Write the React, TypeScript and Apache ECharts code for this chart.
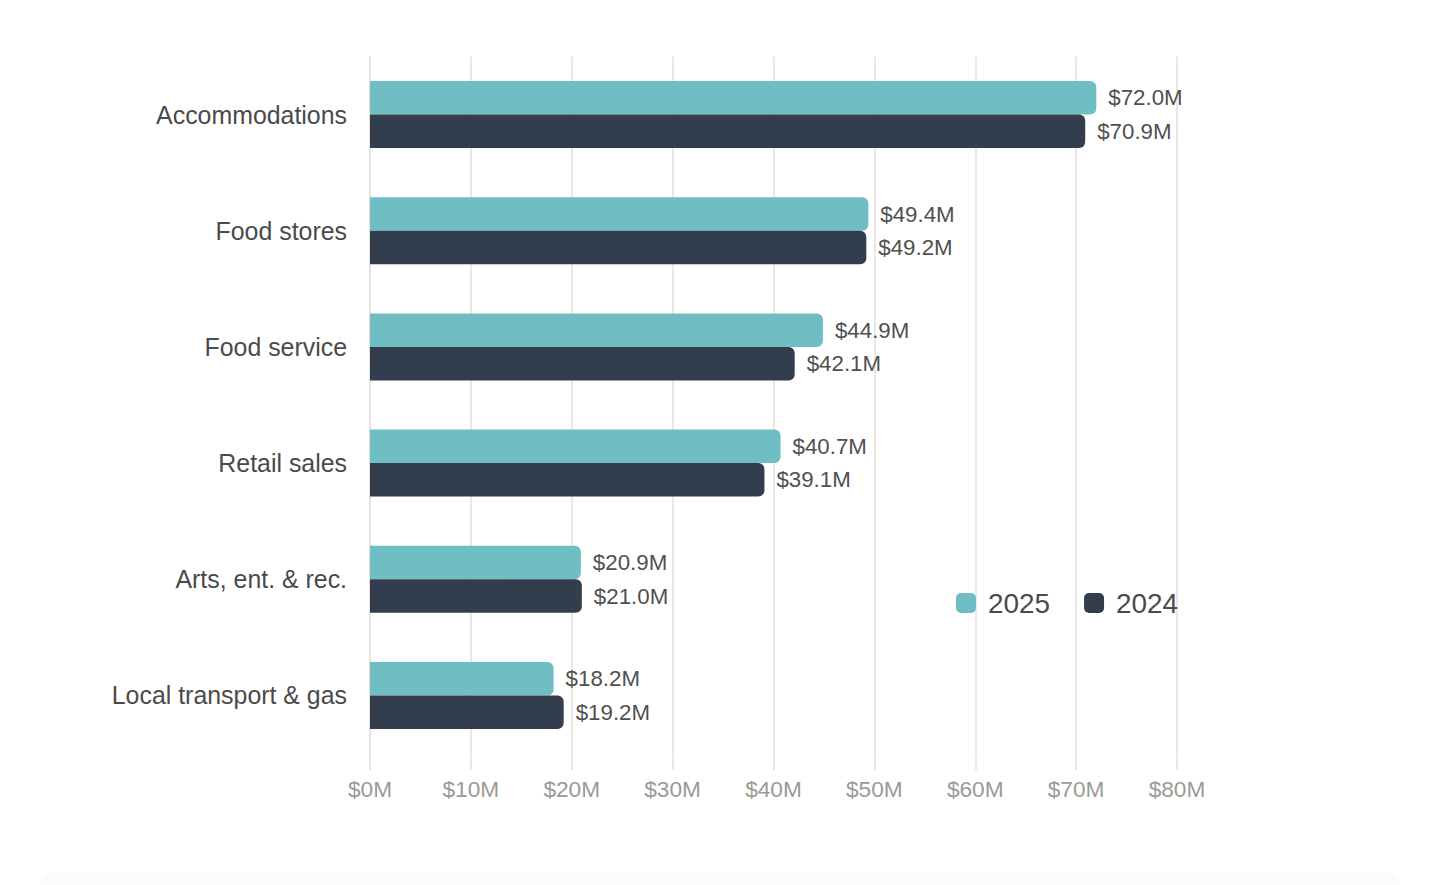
import React, { useEffect, useRef } from "react";
import * as echarts from "echarts";

const categories = [
  "Accommodations",
  "Food stores",
  "Food service",
  "Retail sales",
  "Arts, ent. & rec.",
  "Local transport & gas",
];
const values2025 = [72.0, 49.4, 44.9, 40.7, 20.9, 18.2];
const values2024 = [70.9, 49.2, 42.1, 39.1, 21.0, 19.2];
const seriesNames = ["2025", "2024"];
const xMin = 0;
const xMax = 80;
const xInterval = 10;

const TEAL = "#6ebec4";
const DARK = "#323e4d";
const FONT = "'Liberation Sans', Arial, Helvetica, sans-serif";

export default function App() {
  const ref = useRef<HTMLDivElement>(null);
  useEffect(() => {
    if (!ref.current) return;
    const chart = echarts.init(ref.current, undefined, { renderer: "svg" });
    const labelStyle = {
      show: true,
      position: "right" as const,
      distance: 12,
      color: "#505050",
      fontSize: 22.3,
      fontFamily: FONT,
      formatter: (p: any) => "$" + Number(p.value).toFixed(1) + "M",
    };
    chart.setOption({
      animation: false,
      backgroundColor: "#ffffff",
      grid: { left: 370, right: 263, top: 56.5, height: 697, containLabel: false },
      legend: {
        data: seriesNames,
        left: 951,
        top: 584,
        icon: "roundRect",
        itemWidth: 20,
        itemHeight: 20,
        itemGap: 34,
        textStyle: {
          fontSize: 27.9,
          color: "#4a4a4a",
          fontFamily: FONT,
          padding: [0, 0, 0, 7],
        },
      },
      xAxis: {
        type: "value",
        min: xMin,
        max: xMax,
        interval: xInterval,
        axisLine: { show: false },
        axisTick: {
          show: true,
          length: 17,
          lineStyle: { color: "#e3e1dc", width: 1.5 },
        },
        splitLine: { show: true, lineStyle: { color: "#e3e1dc", width: 1.5 } },
        axisLabel: {
          margin: 24,
          color: "#9a9a96",
          fontSize: 22.7,
          fontFamily: FONT,
          formatter: (v: number) => "$" + v + "M",
        },
      },
      yAxis: {
        type: "category",
        data: categories,
        inverse: true,
        axisLine: { show: true, lineStyle: { color: "#e3e1dc", width: 1.5 } },
        axisTick: { show: false },
        axisLabel: {
          margin: 23,
          color: "#4a4a4a",
          fontSize: 24.9,
          fontFamily: FONT,
        },
      },
      series: [
        {
          name: seriesNames[0],
          type: "bar",
          data: values2025,
          barWidth: 33.5,
          barGap: "0%",
          itemStyle: { color: TEAL, borderRadius: [0, 6, 6, 0] },
          label: labelStyle,
        },
        {
          name: seriesNames[1],
          type: "bar",
          data: values2024,
          barWidth: 33.5,
          barGap: "0%",
          itemStyle: { color: DARK, borderRadius: [0, 6, 6, 0] },
          label: labelStyle,
        },
      ],
    });
    return () => chart.dispose();
  }, []);
  return (
    <div
      style={{
        position: "absolute",
        left: 0,
        top: 0,
        width: 1440,
        height: 885,
        background: "#ffffff",
        overflow: "hidden",
      }}
    >
      <div ref={ref} style={{ width: 1440, height: 885 }} />
      <div
        style={{
          position: "absolute",
          left: 40,
          right: 40,
          top: 873,
          height: 30,
          background: "#fbfbfb",
          borderRadius: 14,
        }}
      />
    </div>
  );
}
